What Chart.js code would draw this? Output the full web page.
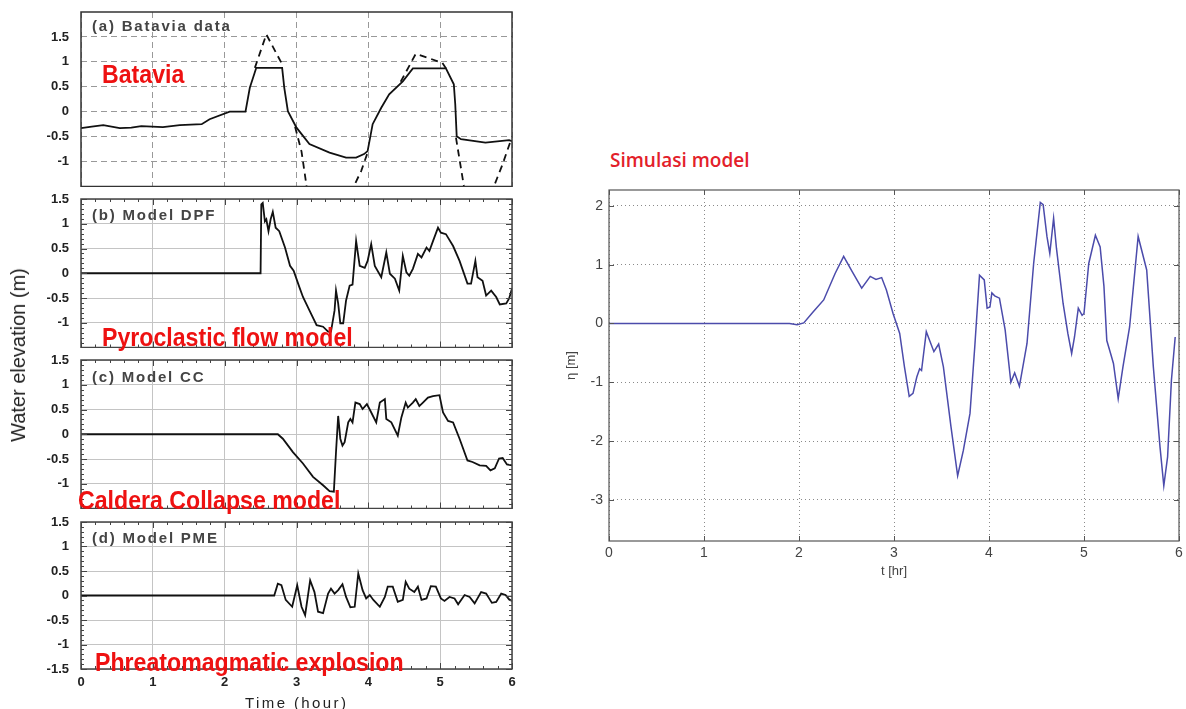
<!DOCTYPE html>
<html>
<head>
<meta charset="utf-8">
<title>Tsunami water elevation</title>
<script src="https://cdn.jsdelivr.net/npm/chart.js@4.4.0/dist/chart.umd.min.js"></script>
<style>
  body { margin: 0; background: #fff; width: 1186px; height: 709px; position: relative; overflow: hidden;
         font-family: 'Liberation Sans', Arial, sans-serif; }
  canvas { position: absolute; }
  .tag { position: absolute; white-space: nowrap; line-height: 1; }
  .red { color: #ee1111; font-weight: bold; font-size: 26px; transform: scaleX(0.89); transform-origin: left center; z-index: 5; }
  .panel { font-size: 15px; font-weight: bold; color: #444; letter-spacing: 1.8px; }
</style>
</head>
<body>

<canvas id="panelA" width="520" height="187" style="left:0;top:0"></canvas>
<canvas id="panelB" width="520" height="158" style="left:0;top:190px"></canvas>
<canvas id="panelC" width="520" height="159" style="left:0;top:350px"></canvas>
<canvas id="panelD" width="520" height="199" style="left:0;top:510px"></canvas>
<canvas id="simChart" width="646" height="400" style="left:540px;top:180px"></canvas>

<div class="tag panel" style="left:92px;top:18px">(a) Batavia data</div>
<div class="tag panel" style="left:92px;top:207px">(b) Model DPF</div>
<div class="tag panel" style="left:92px;top:369px">(c) Model CC</div>
<div class="tag panel" style="left:92px;top:530px">(d) Model PME</div>

<div class="tag red" style="left:102px;top:61px">Batavia</div>
<div class="tag red" style="left:102px;top:324px">Pyroclastic flow model</div>
<div class="tag red" style="left:78px;top:487px">Caldera Collapse model</div>
<div class="tag red" style="left:95px;top:649px">Phreatomagmatic explosion</div>

<div class="tag" style="left:18px;top:355px;font-size:20px;color:#222;transform:translate(-50%,-50%) rotate(-90deg)">Water elevation (m)</div>
<div class="tag" style="left:245px;top:695px;font-size:15px;color:#222;letter-spacing:2.4px">Time (hour)</div>
<div class="tag" style="left:610px;top:151px;font-size:19px;color:#e3202a;font-family:'Open Sans',sans-serif;font-weight:600">Simulasi model</div>

<script>
// ---------------------------------------------
// data: [time (hour), water elevation (m)]
// ---------------------------------------------
const hourTicks = [0, 1, 2, 3, 4, 5, 6];
const levelTicksA = [-1, -0.5, 0, 0.5, 1, 1.5];
const levelTicksBC = [-1, -0.5, 0, 0.5, 1, 1.5];
const levelTicksD = [-1.5, -1, -0.5, 0, 0.5, 1, 1.5];
const simTicks = [-3, -2, -1, 0, 1, 2];

// Batavia tide gauge record (clipped trace)
const bataviaRecord = [
  [0, -0.33], [0.15, -0.3], [0.31, -0.27], [0.54, -0.33], [0.7, -0.32], [0.84, -0.29],
  [1.14, -0.31], [1.375, -0.27], [1.68, -0.25], [1.79, -0.15], [2.07, 0], [2.29, 0],
  [2.35, 0.48], [2.44, 0.88], [2.8, 0.88], [2.83, 0.48], [2.88, 0.01], [3.0, -0.32],
  [3.18, -0.65], [3.46, -0.82], [3.69, -0.92], [3.83, -0.92], [3.94, -0.85], [3.99, -0.79],
  [4.06, -0.25], [4.18, 0.08], [4.29, 0.35], [4.48, 0.61], [4.62, 0.87], [5.08, 0.87],
  [5.19, 0.55], [5.21, 0.15], [5.23, -0.49], [5.29, -0.55], [5.63, -0.62], [5.96, -0.57], [6, -0.59]
];
// reconstructed trace where the gauge went off scale (null = gap)
const bataviaEstimate = [
  [2.42, 0.88], [2.58, 1.55], [2.79, 0.98], [2.8, 0.88], [2.9, null],
  [2.98, -0.3], [3.07, -0.8], [3.14, -1.49], [3.3, -2.05], [3.5, -2.25], [3.7, -1.9],
  [3.8, -1.49], [3.9, -1.19], [3.99, -0.82], [4.2, null],
  [4.45, 0.6], [4.66, 1.16], [4.85, 1.07], [5.03, 0.98], [5.08, 0.87], [5.15, null],
  [5.22, -0.52], [5.33, -1.49], [5.5, -2.1], [5.75, -1.49], [5.87, -1.05], [5.98, -0.59]
];

// model DPF (pyroclastic flow)
const dpfLevel = [
  [0, 0], [2.5, 0], [2.51, 1.39], [2.53, 1.42], [2.56, 1.05], [2.58, 1.09], [2.61, 0.85],
  [2.64, 1.09], [2.67, 1.24], [2.71, 0.92], [2.76, 0.85], [2.84, 0.52], [2.91, 0.15],
  [2.96, 0.05], [3.04, -0.28], [3.09, -0.48], [3.18, -0.75], [3.28, -1.05], [3.37, -1.08],
  [3.44, -1.18], [3.48, -1.18], [3.53, -0.75], [3.55, -0.35], [3.58, -0.61], [3.61, -1.01],
  [3.65, -1.01], [3.69, -0.55], [3.74, -0.25], [3.78, -0.23], [3.83, 0.65], [3.88, 0.15],
  [3.95, 0.11], [3.99, 0.25], [4.04, 0.59], [4.09, 0.15], [4.18, -0.08], [4.25, 0.42],
  [4.3, -0.01], [4.37, -0.11], [4.43, -0.35], [4.48, 0.35], [4.53, 0.02], [4.57, -0.05],
  [4.62, 0.09], [4.69, 0.39], [4.74, 0.32], [4.81, 0.52], [4.85, 0.45], [4.9, 0.65],
  [4.97, 0.92], [5.01, 0.82], [5.08, 0.79], [5.18, 0.55], [5.27, 0.25], [5.38, -0.21],
  [5.43, -0.21], [5.49, 0.25], [5.52, -0.08], [5.59, -0.15], [5.64, -0.45], [5.71, -0.35],
  [5.78, -0.48], [5.83, -0.63], [5.92, -0.61], [5.96, -0.51], [6, -0.31]
];

// model CC (caldera collapse)
const ccLevel = [
  [0, 0], [2.74, 0], [2.81, -0.09], [2.95, -0.36], [3.09, -0.59], [3.23, -0.86], [3.37, -1.03],
  [3.46, -1.15], [3.52, -1.16], [3.55, -0.36], [3.58, 0.37], [3.61, -0.09], [3.64, -0.23],
  [3.67, -0.16], [3.72, 0.24], [3.75, 0.31], [3.78, 0.24], [3.82, 0.64], [3.88, 0.61],
  [3.92, 0.51], [3.98, 0.61], [4.03, 0.47], [4.11, 0.24], [4.16, 0.64], [4.23, 0.71],
  [4.25, 0.31], [4.32, 0.24], [4.41, -0.03], [4.46, 0.34], [4.52, 0.64], [4.55, 0.54],
  [4.62, 0.64], [4.66, 0.71], [4.71, 0.57], [4.76, 0.64], [4.83, 0.74], [4.9, 0.77],
  [4.99, 0.79], [5.04, 0.44], [5.11, 0.27], [5.18, 0.24], [5.27, -0.09], [5.38, -0.53],
  [5.45, -0.56], [5.55, -0.63], [5.64, -0.64], [5.7, -0.73], [5.76, -0.69], [5.82, -0.49],
  [5.87, -0.48], [5.93, -0.61], [6, -0.63]
];

// model PME (phreatomagmatic explosion)
const pmeLevel = [
  [0, 0], [2.69, 0], [2.74, 0.24], [2.79, 0.21], [2.85, -0.09], [2.94, -0.23], [3.01, 0.21],
  [3.07, -0.23], [3.12, -0.4], [3.19, 0.31], [3.25, 0.07], [3.3, -0.33], [3.37, -0.36],
  [3.44, 0.04], [3.48, 0.14], [3.53, 0.04], [3.58, 0.11], [3.64, 0.23], [3.69, -0.03],
  [3.75, -0.24], [3.81, -0.23], [3.86, 0.45], [3.92, 0.11], [3.97, -0.06], [4.02, 0.01],
  [4.07, -0.09], [4.16, -0.23], [4.23, -0.03], [4.27, 0.18], [4.34, 0.18], [4.41, -0.13],
  [4.48, -0.09], [4.52, 0.28], [4.57, 0.14], [4.64, 0.07], [4.69, 0.18], [4.74, -0.09],
  [4.81, -0.06], [4.87, 0.19], [4.94, 0.18], [5.01, -0.06], [5.06, -0.11], [5.13, -0.03],
  [5.2, -0.06], [5.25, -0.18], [5.34, 0.01], [5.41, -0.03], [5.48, -0.16], [5.57, 0.07],
  [5.64, 0.04], [5.72, -0.15], [5.78, -0.13], [5.85, 0.04], [5.91, 0.01], [5.96, -0.08], [6, -0.11]
];

// simulation, eta [m] against t [hr]
const simLevel = [
  [0, 0], [1.9, 0], [1.98, -0.02], [2.05, 0.01], [2.15, 0.2], [2.26, 0.4], [2.38, 0.85],
  [2.47, 1.14], [2.56, 0.88], [2.66, 0.6], [2.75, 0.8], [2.81, 0.75], [2.87, 0.78],
  [2.92, 0.57], [2.99, 0.17], [3.06, -0.17], [3.11, -0.74], [3.16, -1.24], [3.2, -1.19],
  [3.24, -0.91], [3.27, -0.77], [3.29, -0.8], [3.34, -0.14], [3.42, -0.48], [3.47, -0.35],
  [3.52, -0.74], [3.6, -1.76], [3.67, -2.59], [3.73, -2.16], [3.8, -1.53], [3.85, -0.4],
  [3.9, 0.82], [3.95, 0.74], [3.98, 0.26], [4.01, 0.28], [4.03, 0.52], [4.06, 0.47],
  [4.11, 0.43], [4.17, -0.11], [4.23, -1.0], [4.27, -0.84], [4.32, -1.07], [4.4, -0.34],
  [4.47, 1.02], [4.54, 2.06], [4.57, 2.02], [4.61, 1.48], [4.64, 1.19], [4.68, 1.79],
  [4.71, 1.28], [4.78, 0.34], [4.83, -0.17], [4.87, -0.51], [4.9, -0.23], [4.94, 0.26],
  [4.98, 0.14], [5.0, 0.17], [5.05, 1.02], [5.12, 1.5], [5.17, 1.3], [5.21, 0.63],
  [5.24, -0.29], [5.28, -0.51], [5.31, -0.68], [5.36, -1.28], [5.41, -0.74], [5.48, -0.06],
  [5.57, 1.48], [5.66, 0.91], [5.73, -0.74], [5.8, -2.1], [5.84, -2.76], [5.88, -2.27],
  [5.92, -0.97], [5.96, -0.23]
];

// ---------------------------------------------
// box around the plot area plus inward tick marks
// ---------------------------------------------
const frame = {
  id: 'frame',
  afterDatasetsDraw(chart, args, opts) {
    const ctx = chart.ctx;
    const a = chart.chartArea;
    const x = chart.scales.x, y = chart.scales.y;
    ctx.save();
    ctx.setLineDash([]);
    ctx.strokeStyle = opts.color;
    if (opts.xStep) {
      ctx.lineWidth = 1;
      ctx.beginPath();
      const nx = Math.round((x.max - x.min) / opts.xStep);
      for (let i = 0; i <= nx; i++) {
        const v = x.min + i * opts.xStep;
        const len = Math.abs(v - Math.round(v)) < 1e-6 ? opts.major : opts.minor;
        const px = Math.round(x.getPixelForValue(v)) + 0.5;
        ctx.moveTo(px, a.bottom); ctx.lineTo(px, a.bottom - len);
        ctx.moveTo(px, a.top); ctx.lineTo(px, a.top + len);
      }
      const y0 = Math.ceil(y.min / opts.yStep - 1e-6);
      const y1 = Math.floor(y.max / opts.yStep + 1e-6);
      for (let i = y0; i <= y1; i++) {
        const v = i * opts.yStep;
        const len = Math.abs(v / opts.yMajor - Math.round(v / opts.yMajor)) < 1e-6 ? opts.major : opts.minor;
        const py = Math.round(y.getPixelForValue(v)) + 0.5;
        ctx.moveTo(a.left, py); ctx.lineTo(a.left + len, py);
        ctx.moveTo(a.right, py); ctx.lineTo(a.right - len, py);
      }
      ctx.stroke();
    }
    ctx.lineWidth = opts.width;
    ctx.strokeRect(a.left, a.top, a.right - a.left, a.bottom - a.top);
    ctx.restore();
  }
};

// y labels get a 1px line height so they add no top/bottom padding to the layout
const tickFont = { family: "'Liberation Sans', Arial, sans-serif", size: 13, weight: 'bold' };
const yTickFont = Object.assign({}, tickFont, { lineHeight: '1px' });

function toPoints(pairs) {
  return pairs.map(p => ({ x: p[0], y: p[1] }));
}

//---------------------------------------------------------
// one of the four stacked panels on the left
//---------------------------------------------------------
function panelChart(id, datasets, yMin, yMax, yLabels, cfg) {
  return new Chart(document.getElementById(id), {
    type: 'line',
    data: { datasets: datasets },
    options: {
      responsive: false,
      animation: false,
      events: [],
      layout: { autoPadding: false, padding: { top: cfg.padTop, right: 8, bottom: 0, left: 0 } },
      elements: { point: { radius: 0 }, line: { tension: 0 } },
      plugins: {
        legend: { display: false },
        tooltip: { enabled: false },
        frame: cfg.frame
      },
      scales: {
        x: {
          type: 'linear', min: 0, max: 6,
          afterBuildTicks: s => { s.ticks = hourTicks.map(v => ({ value: v })); },
          afterFit: s => { s.height = cfg.showHours ? 40 : 0; },
          border: { display: false, dash: cfg.dash },
          grid: { color: cfg.gridColor, lineWidth: 1, drawTicks: !!cfg.showHours, tickLength: 6, tickColor: 'rgba(0,0,0,0)' },
          ticks: { display: !!cfg.showHours, padding: 0, font: tickFont, color: '#222',
                   autoSkip: false, maxRotation: 0, callback: v => String(v) }
        },
        y: {
          type: 'linear', min: yMin, max: yMax,
          afterBuildTicks: s => { s.ticks = yLabels.map(v => ({ value: v })); },
          afterFit: s => { s.width = 81; },
          border: { display: false, dash: cfg.dash },
          grid: { color: cfg.gridColor, lineWidth: 1, drawTicks: true, tickLength: 12, tickColor: 'rgba(0,0,0,0)' },
          ticks: { padding: 0, font: yTickFont, color: '#222', autoSkip: false, callback: v => String(v) }
        }
      }
    },
    plugins: [frame]
  });
}

function blackLine(pairs, dash) {
  return { data: toPoints(pairs), borderColor: '#111', borderWidth: 1.8, borderDash: dash || [], fill: false };
}

const minorTicks = { color: '#444', width: 1.5, xStep: 0.2, yStep: 0.1, yMajor: 0.5, major: 6, minor: 3 };

panelChart('panelA', [blackLine(bataviaRecord), blackLine(bataviaEstimate, [7, 5])], -1.5, 2, levelTicksA,
  { padTop: 12, dash: [6, 4], gridColor: '#999', frame: { color: '#333', width: 1.5 } });
panelChart('panelB', [blackLine(dpfLevel)], -1.5, 1.5, levelTicksBC,
  { padTop: 9, dash: [], gridColor: '#c4c4c4', frame: minorTicks });
panelChart('panelC', [blackLine(ccLevel)], -1.5, 1.5, levelTicksBC,
  { padTop: 10, dash: [], gridColor: '#c4c4c4', frame: minorTicks });
panelChart('panelD', [blackLine(pmeLevel)], -1.5, 1.5, levelTicksD,
  { padTop: 12, dash: [], gridColor: '#c4c4c4', frame: minorTicks, showHours: true });

//---------------------------------------------------------
// simulation result on the right
//---------------------------------------------------------
const simFont = { family: "'Liberation Sans', Arial, sans-serif", size: 14 };
new Chart(document.getElementById('simChart'), {
  type: 'line',
  data: {
    datasets: [{ data: toPoints(simLevel), borderColor: '#4b4bab', borderWidth: 1.5, fill: false }]
  },
  options: {
    responsive: false,
    animation: false,
    events: [],
    layout: { autoPadding: false, padding: { top: 10, right: 7, bottom: 0, left: 0 } },
    elements: { point: { radius: 0 }, line: { tension: 0 } },
    plugins: {
      legend: { display: false },
      tooltip: { enabled: false },
      frame: { color: '#555', width: 1.2, xStep: 1, yStep: 1, yMajor: 1, major: 5, minor: 5 }
    },
    scales: {
      x: {
        type: 'linear', min: 0, max: 6,
        afterBuildTicks: s => { s.ticks = hourTicks.map(v => ({ value: v })); },
        afterFit: s => { s.height = 39; },
        border: { display: false, dash: [1, 3] },
        grid: { color: '#8a8a8a', lineWidth: 1, drawTicks: true, tickLength: 4, tickColor: 'rgba(0,0,0,0)' },
        ticks: { padding: 0, font: simFont, color: '#444', autoSkip: false, maxRotation: 0, callback: v => String(v) },
        title: { display: true, text: 't [hr]', color: '#444', font: { family: simFont.family, size: 13 },
                 padding: { top: 0, bottom: 1 } }
      },
      y: {
        type: 'linear', min: -3.7, max: 2.27,
        afterBuildTicks: s => { s.ticks = simTicks.map(v => ({ value: v })); },
        afterFit: s => { s.width = 69; },
        border: { display: false, dash: [1, 3] },
        grid: { color: '#8a8a8a', lineWidth: 1, drawTicks: true, tickLength: 6, tickColor: 'rgba(0,0,0,0)' },
        ticks: { padding: 0, font: Object.assign({}, simFont, { lineHeight: '1px' }), color: '#444',
                 autoSkip: false, callback: v => String(v) },
        title: { display: true, text: 'η [m]', color: '#444', font: { family: simFont.family, size: 13 },
                 padding: { top: 24, bottom: 0 } }
      }
    }
  },
  plugins: [frame]
});
</script>
</body>
</html>
